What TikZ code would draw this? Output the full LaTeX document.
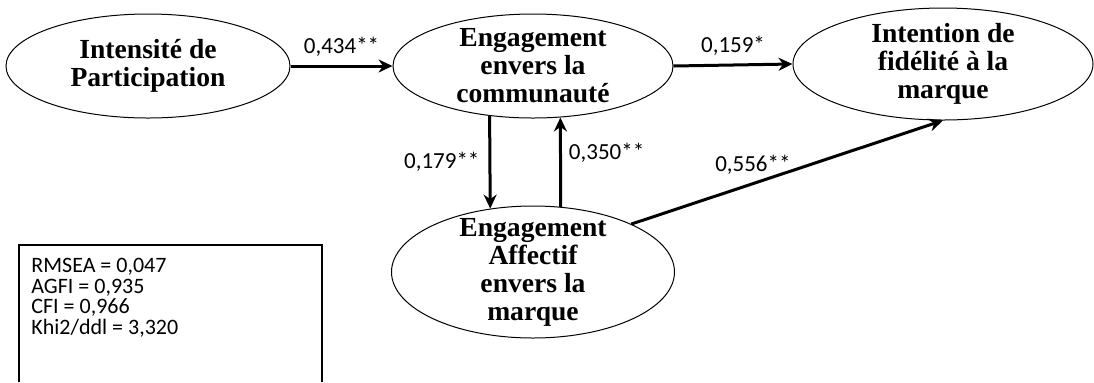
\documentclass[tikz,border=0pt]{standalone}
\usepackage{fontspec}
\setmainfont{Liberation Serif}
\newfontfamily\coeffont{Carlito}
\usetikzlibrary{arrows.meta, positioning, shapes.geometric}

\begin{document}
\begin{tikzpicture}[x=0.5pt, y=-0.5pt, >={Stealth[length=7pt,width=6.5pt]}, node distance=192.5pt, on grid, auto]
  \tikzset{
    latent/.style={ellipse, draw, line width=0.5pt, inner xsep=0pt, inner ysep=-8pt,
      align=center, font=\bfseries\fontsize{13.8}{14}\selectfont},
    link/.style={->, line width=1.5pt},
    coef/.style={font=\coeffont\fontsize{11.5}{12}\selectfont, inner sep=2pt}
  }
  \useasboundingbox (0,0) rectangle (1094,382);

  % Latent variables of the model
  \node (inten) [latent, minimum width=142pt, minimum height=52pt] at (148,66) {Intensité de\\Participation};
  \node (engcom) [latent, minimum width=140pt, minimum height=52pt, right=of inten] {Engagement\\envers la\\communauté};
  \node (fidel) [latent, minimum width=150pt, minimum height=56pt, right=205pt of engcom, yshift=1pt] {Intention de\\fidélité à la\\marque};
  \node (engaff) [latent, minimum width=141.5pt, minimum height=66pt, below=103pt of engcom] {Engagement\\Affectif\\envers la\\marque};

  % Structural paths with coefficients
  \draw[link] (inten.east) to node[coef, above=2pt] {0,434**} (engcom.west);
  \draw[link] (engcom.east) to node[coef, above=2pt] {0,159*} (fidel.west);
  \draw[link] (engcom.229) to node[coef, left=2.5pt] {0,179**} (engaff.124);
  \draw[link] (engaff.67) to node[coef, right=1.5pt, pos=0.6] {0,350**} (engcom.298);
  \draw[link] (engaff.26) to node[coef, above=2pt, pos=0.39] {0,556**} (fidel.south);

  % Fit indices
  \node (stats) [coef, anchor=north west, align=left, inner sep=0pt,
    font=\coeffont\fontsize{11}{10.3}\selectfont] at (31,258) {RMSEA = 0,047\\AGFI = 0,935\\CFI = 0,966\\Khi2/ddl = 3,320};
  \draw[line width=0.6pt] (19,382) -- (19,245) -- (322,245) -- (322,382);
\end{tikzpicture}
\end{document}
